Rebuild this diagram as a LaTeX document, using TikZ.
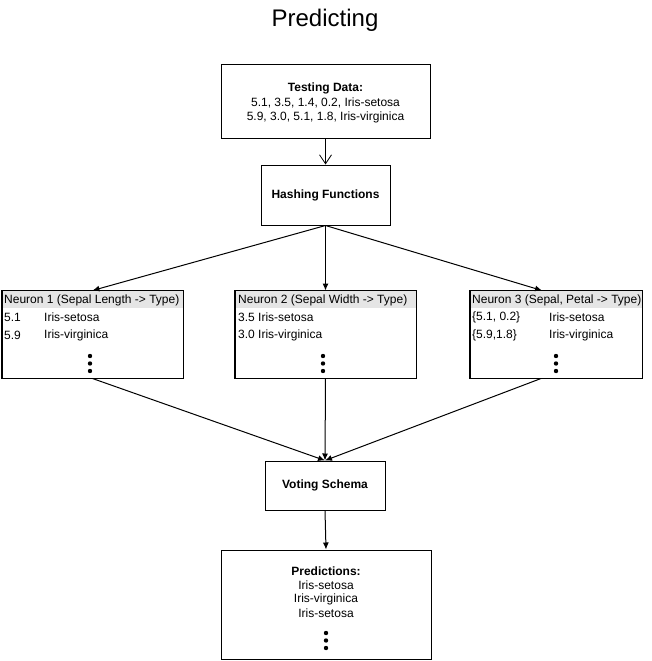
\documentclass[tikz,border=0pt]{standalone}
\usepackage{fontspec}
\setmainfont{Liberation Sans}
\usetikzlibrary{arrows.meta}
\tikzset{
  every node/.style={font=\fontsize{12}{14}\selectfont, inner sep=0pt},
  box/.style={draw, line width=1pt, fill=white, rectangle},
  hdr/.style={fill=black!10, rectangle},
  rowtxt/.style={anchor=west},
  conn/.style={line width=1pt, -{Latex[length=7pt,width=6pt]}},
  openconn/.style={line width=1pt, -{Straight Barb[length=9pt,width=12pt,line width=0.8pt]}},
  dotc/.style={fill=black},
}
\begin{document}
\begin{tikzpicture}[x=1pt,y=-1pt]
\useasboundingbox (0,0) rectangle (651,661);

\node[font=\fontsize{24}{28}\selectfont] (title) at (325,20) {Predicting};

% Testing data
\node[box, minimum width=209pt, minimum height=73pt] (test) at (325.5,101.5) {};
\node[font=\fontsize{12}{14}\selectfont\bfseries] (testh) at (325.5,88) {Testing Data:};
\node (test1) at (325.5,102.5) {5.1, 3.5, 1.4, 0.2, Iris-setosa};
\node (test2) at (325.5,117) {5.9, 3.0, 5.1, 1.8, Iris-virginica};

% Hashing
\node[box, minimum width=129pt, minimum height=60pt, font=\fontsize{12}{14}\selectfont\bfseries] (hash) at (325.5,195) {Hashing Functions};

% Neurons
\node[box, minimum width=181pt, minimum height=87pt] (n1) at (92.5,334.5) {};
\node[box, minimum width=181pt, minimum height=87pt] (n2) at (325.5,334.5) {};
\node[box, minimum width=172pt, minimum height=87pt] (n3) at (556,334.5) {};

\node[hdr, minimum width=180pt, minimum height=17pt, anchor=north] (h1) at ([yshift=-0.5pt]n1.north) {};
\node[hdr, minimum width=180pt, minimum height=17pt, anchor=north] (h2) at ([yshift=-0.5pt]n2.north) {};
\node[hdr, minimum width=171pt, minimum height=17pt, anchor=north] (h3) at ([yshift=-0.5pt]n3.north) {};
\draw[line width=1pt] (n1.south west) rectangle (n1.north east);
\draw[line width=1pt] (n2.south west) rectangle (n2.north east);
\draw[line width=1pt] (n3.south west) rectangle (n3.north east);

\node[rowtxt] (t1) at (4,300) {Neuron 1 (Sepal Length -> Type)};
\node[rowtxt] (a1) at (4,317.5) {5.1};
\node[rowtxt] (b1) at (44,317.5) {Iris-setosa};
\node[rowtxt] (c1) at (4,335) {5.9};
\node[rowtxt] (d1) at (44,335) {Iris-virginica};

\node[rowtxt] (t2) at (238,300) {Neuron 2 (Sepal Width -> Type)};
\node[rowtxt] (a2) at (238,317.5) {3.5 Iris-setosa};
\node[rowtxt] (c2) at (238,335) {3.0 Iris-virginica};

\node[rowtxt] (t3) at (472,300) {Neuron 3 (Sepal, Petal -> Type)};
\node[rowtxt] (a3) at (472,317.5) {\{5.1, 0.2\}};
\node[rowtxt] (b3) at (549,317.5) {Iris-setosa};
\node[rowtxt] (c3) at (472,335) {\{5.9,1.8\}};
\node[rowtxt] (d3) at (549,335) {Iris-virginica};

\foreach \xx in {90,323,556} {
  \fill[dotc] (\xx,356) circle (2.2pt);
  \fill[dotc] (\xx,363.5) circle (2.2pt);
  \fill[dotc] (\xx,371) circle (2.2pt);
}

% Voting
\node[box, minimum width=120pt, minimum height=49pt, font=\fontsize{12}{14}\selectfont\bfseries] (vote) at (325,485.5) {Voting Schema};

% Predictions
\node[box, minimum width=210pt, minimum height=109pt] (pred) at (326,604.5) {};
\node[font=\fontsize{12}{14}\selectfont\bfseries] (ph) at (326,571) {Predictions:};
\node (p1) at (326,585) {Iris-setosa};
\node (p2) at (326,599) {Iris-virginica};
\node (p3) at (326,613) {Iris-setosa};
\fill[dotc] (326,633) circle (2.2pt);
\fill[dotc] (326,640.5) circle (2.2pt);
\fill[dotc] (326,648) circle (2.2pt);

% connectors
\draw[openconn] (test.south) -- (hash.north);
\draw[conn] (hash.south) -- (n1.north);
\draw[conn] (hash.south) -- (n2.north);
\draw[conn] (hash.south) -- ([xshift=-14pt]n3.north);
\draw[conn] (n1.south) -- (vote.north);
\draw[conn] (n2.south) -- (vote.north);
\draw[conn] ([xshift=-15pt]n3.south) -- (vote.north);
\draw[conn] (vote.south) -- (pred.north);
\end{tikzpicture}
\end{document}
